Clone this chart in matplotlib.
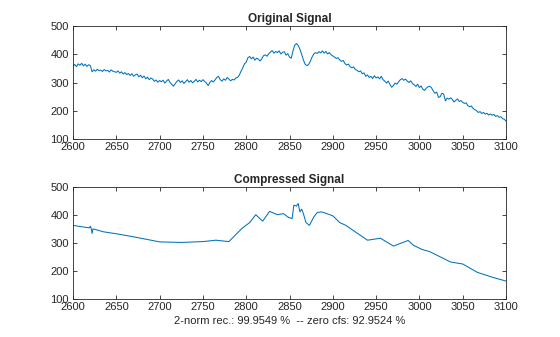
import numpy as np
import matplotlib
matplotlib.use("Agg")
import matplotlib.pyplot as plt

plt.rcParams['font.family'] = ['Liberation Sans', 'DejaVu Sans']

# Original signal, sampled every 2 units from 2600 to 3100
orig_x = list(range(2600, 3101, 2))
orig_y = [
    # 2600-2620
    358, 364, 356, 366, 361, 368, 359, 365, 357, 363, 360,
    # 2622-2648
    338, 345, 340, 347, 342, 344, 339, 346, 341, 343, 337, 345, 340, 338,
    # 2650-2700
    336, 341, 333, 338, 330, 335, 328, 332, 325, 331, 322, 327, 330, 320,
    326, 317, 323, 313, 319, 310, 316, 312, 304, 309, 301, 307,
    # 2702-2790
    303, 308, 298, 305, 311, 300, 294, 287, 296, 304, 309, 300, 306, 297,
    303, 310, 301, 307, 299, 304, 311, 302, 308, 303, 310, 304, 298, 289,
    300, 307, 302, 309, 318, 322, 310, 305, 313, 308, 318, 312, 306, 311,
    309, 316, 318,
    # 2792-2800
    326, 340, 352, 366, 372,
    # 2802-2852
    388, 392, 384, 390, 379, 386, 383, 376, 384, 395, 398, 393, 402, 408,
    413, 404, 410, 406, 412, 401, 407, 409, 397, 402, 390, 386,
    # 2854-2900
    412, 432, 438, 431, 418, 400, 380, 365, 360, 363, 375, 390, 401, 406,
    403, 409, 405, 412, 404, 410, 401, 406, 398, 394,
    # 2902-2950
    390, 385, 388, 380, 375, 378, 367, 362, 365, 356, 352, 355, 346, 343,
    338, 341, 331, 334, 322, 327, 318, 322, 314, 324, 316,
    # 2952-3000
    320, 313, 322, 310, 305, 298, 305, 293, 283, 290, 298, 294, 303, 310,
    314, 308, 312, 305, 300, 306, 296, 292, 286, 294, 282,
    # 3002-3050
    288, 276, 272, 280, 285, 287, 281, 270, 262, 266, 247, 250, 262, 259,
    235, 245, 241, 246, 240, 231, 237, 242, 233, 236, 230,
    # 3052-3100
    226, 228, 218, 214, 217, 208, 204, 200, 194, 197, 190, 194, 188, 191,
    185, 189, 184, 187, 180, 183, 177, 179, 172, 170, 163,
]

# Compressed (reconstructed) signal
comp_x = [2600, 2610, 2619, 2620, 2621, 2622, 2623, 2625, 2635, 2650, 2670,
          2700, 2725, 2750, 2765, 2780, 2795, 2804, 2811, 2819, 2827, 2836,
          2843, 2848, 2853, 2855, 2858, 2860, 2862, 2864, 2866, 2869, 2873,
          2878, 2882, 2887, 2893, 2900, 2908, 2915, 2940, 2955, 2970, 2987,
          2993, 3003, 3012, 3036, 3050, 3067, 3085, 3100]
comp_y = [363, 358, 354, 360, 352, 334, 350, 349, 340, 333, 322,
          304, 302, 305, 310, 305, 352, 373, 401, 378, 413, 401,
          405, 393, 387, 435, 432, 441, 411, 421, 405, 373, 363,
          393, 409, 411, 405, 397, 373, 363, 310, 317, 289, 309,
          292, 277, 269, 232, 225, 195, 177, 164]

x_ticks = list(range(2600, 3101, 50))
y_ticks = [100, 200, 300, 400, 500]
caption = "2-norm rec.: 99.9549 %  -- zero cfs: 92.9524 %"

line_color = "#0072BD"
axis_color = "#262626"

fig = plt.figure(figsize=(5.6, 3.37), dpi=100)
ax1 = fig.add_axes([0.1304, 0.5875, 0.7732, 0.3353])
ax2 = fig.add_axes([0.1304, 0.1128, 0.7732, 0.3323])

for ax, xs, ys, title in ((ax1, orig_x, orig_y, "Original Signal"),
                          (ax2, comp_x, comp_y, "Compressed Signal")):
    ax.plot(xs, ys, color=line_color, lw=0.75)
    ax.set_xlim(2600, 3100)
    ax.set_ylim(100, 500)
    ax.set_xticks(x_ticks)
    ax.set_yticks(y_ticks)
    ax.tick_params(direction='in', top=True, right=True, length=3,
                   width=0.6, labelsize=8, colors=axis_color)
    ax.tick_params(axis='x', pad=2.5)
    ax.tick_params(axis='y', pad=3)
    for s in ax.spines.values():
        s.set_color(axis_color)
        s.set_linewidth(0.6)
    ax.set_title(title, fontsize=8.5, fontweight='bold', color=axis_color, pad=3)

ax2.set_xlabel(caption, fontsize=8, color=axis_color, labelpad=2.5)

fig.savefig("out.png", dpi=100)
